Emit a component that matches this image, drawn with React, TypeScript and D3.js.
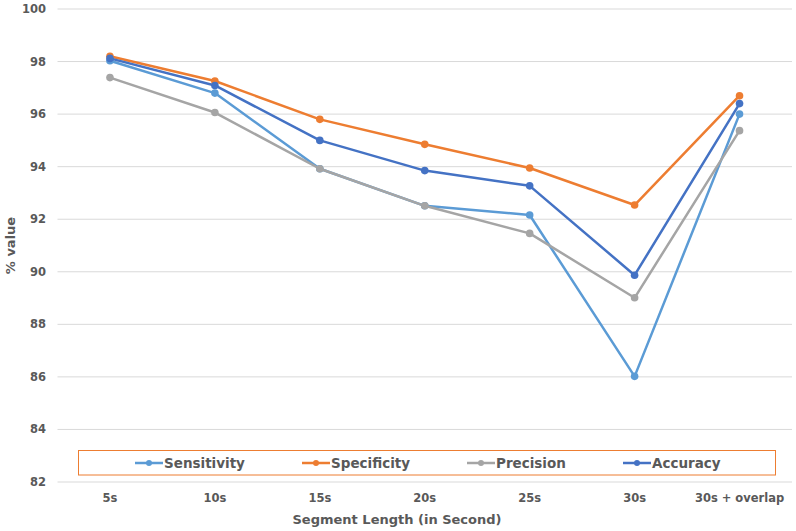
import React, { useEffect, useRef } from 'react';
import * as d3 from 'd3';

const categories = ['5s', '10s', '15s', '20s', '25s', '30s', '30s + overlap'];
const seriesNames = ['Sensitivity', 'Specificity', 'Precision', 'Accuracy'];
const seriesColors = ['#5B9BD5', '#ED7D31', '#A5A5A5', '#4472C4'];

const sensitivity = [98.03, 96.8, 93.92, 92.51, 92.16, 86.02, 96.0];
const specificity = [98.2, 97.26, 95.8, 94.85, 93.95, 92.54, 96.7];
const precision = [97.39, 96.06, 93.92, 92.51, 91.46, 89.01, 95.37];
const accuracy = [98.12, 97.09, 95.0, 93.85, 93.27, 89.87, 96.4];
const seriesValues = [sensitivity, specificity, precision, accuracy];

const yTicks = [82, 84, 86, 88, 90, 92, 94, 96, 98, 100];

const W = 796;
const H = 531;
const FONT = '"DejaVu Sans", Verdana, sans-serif';
const TEXT = '#595959';

const App: React.FC = () => {
  const svgRef = useRef<SVGSVGElement>(null);

  useEffect(() => {
    if (!svgRef.current) return;
    const svg = d3.select(svgRef.current);
    svg.selectAll('*').remove();

    const left = 57.5, right = 792, top = 9, bottom = 482;

    const x = d3.scaleBand<string>().domain(categories).range([left, right]);
    const y = d3.scaleLinear().domain([82, 100]).range([bottom, top]);
    const cx = (i: number) => (x(categories[i]) ?? 0) + x.bandwidth() / 2;

    // grid
    svg.append('g')
      .selectAll('line')
      .data(yTicks)
      .join('line')
      .attr('x1', left)
      .attr('x2', right)
      .attr('y1', d => y(d))
      .attr('y2', d => y(d))
      .attr('stroke', '#D9D9D9')
      .attr('stroke-width', 1);

    // y labels
    svg.append('g')
      .selectAll('text')
      .data(yTicks)
      .join('text')
      .attr('x', 46)
      .attr('y', d => y(d))
      .attr('dy', '0.35em')
      .attr('text-anchor', 'end')
      .attr('font-family', FONT)
      .attr('font-weight', 'bold')
      .attr('font-size', 11.5)
      .attr('fill', TEXT)
      .text(d => d);

    // x labels
    svg.append('g')
      .selectAll('text')
      .data(categories)
      .join('text')
      .attr('x', (_, i) => cx(i))
      .attr('y', 498)
      .attr('dy', '0.35em')
      .attr('text-anchor', 'middle')
      .attr('font-family', FONT)
      .attr('font-weight', 'bold')
      .attr('font-size', 11.5)
      .attr('fill', TEXT)
      .text(d => d);

    // axis titles
    svg.append('text')
      .attr('x', 397)
      .attr('y', 519)
      .attr('dy', '0.35em')
      .attr('text-anchor', 'middle')
      .attr('font-family', FONT)
      .attr('font-weight', 'bold')
      .attr('font-size', 13)
      .attr('fill', TEXT)
      .text('Segment Length (in Second)');

    svg.append('text')
      .attr('transform', `translate(10,${(top + bottom) / 2}) rotate(-90)`)
      .attr('dy', '0.35em')
      .attr('text-anchor', 'middle')
      .attr('font-family', FONT)
      .attr('font-weight', 'bold')
      .attr('font-size', 13)
      .attr('fill', TEXT)
      .text('% value');

    // series
    const line = d3.line<number>()
      .x((_, i) => cx(i))
      .y(d => y(d));

    seriesValues.forEach((vals, si) => {
      const g = svg.append('g');
      g.append('path')
        .attr('d', line(vals))
        .attr('fill', 'none')
        .attr('stroke', seriesColors[si])
        .attr('stroke-width', 2.5)
        .attr('stroke-linejoin', 'round');
      g.selectAll('circle')
        .data(vals)
        .join('circle')
        .attr('cx', (_, i) => cx(i))
        .attr('cy', d => y(d))
        .attr('r', 3.8)
        .attr('fill', seriesColors[si]);
    });

    // legend
    const lg = svg.append('g');
    lg.append('rect')
      .attr('x', 78.5)
      .attr('y', 450.5)
      .attr('width', 697)
      .attr('height', 24.5)
      .attr('fill', '#fff')
      .attr('stroke', '#ED7D31')
      .attr('stroke-width', 1);

    const legendX = [135, 302, 467, 623];
    seriesNames.forEach((name, i) => {
      const lx = legendX[i];
      const ly = 463;
      lg.append('line')
        .attr('x1', lx)
        .attr('x2', lx + 28)
        .attr('y1', ly)
        .attr('y2', ly)
        .attr('stroke', seriesColors[i])
        .attr('stroke-width', 2.5);
      lg.append('circle')
        .attr('cx', lx + 14)
        .attr('cy', ly)
        .attr('r', 3)
        .attr('fill', seriesColors[i]);
      lg.append('text')
        .attr('x', lx + 29)
        .attr('y', ly)
        .attr('dy', '0.35em')
        .attr('font-family', FONT)
        .attr('font-weight', 'bold')
        .attr('font-size', 13.5)
        .attr('fill', TEXT)
        .text(name);
    });
  }, []);

  return (
    <div style={{ position: 'absolute', left: 0, top: 0, width: W, height: H, background: '#fff' }}>
      <svg ref={svgRef} width={W} height={H} />
    </div>
  );
};

export default App;
